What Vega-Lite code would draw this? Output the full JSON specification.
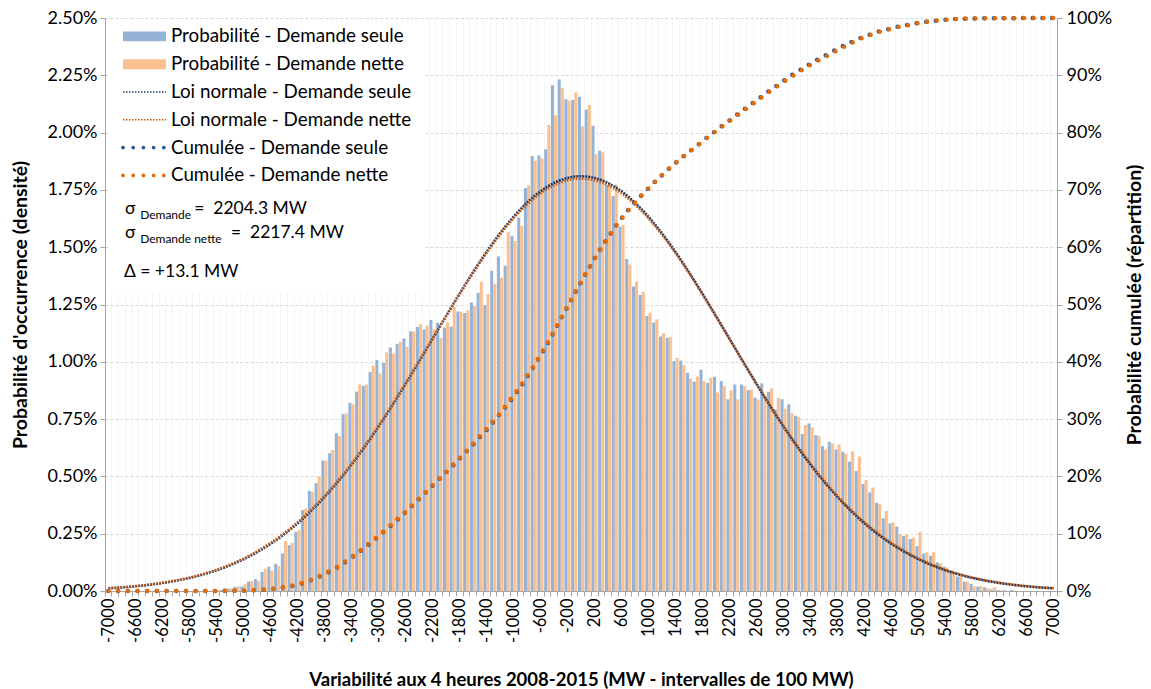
{
"$schema": "https://vega.github.io/schema/vega-lite/v6.json",
"width": 952, "height": 573,
"autosize": {"type": "none"},
"padding": {"left": 105, "top": 18, "right": 94, "bottom": 98},
"background": "white",
"config": {"font": "Lato", "view": {"stroke": null}, "text": {"font": "Lato", "color": "#000"}},
"data": {"values": [
{"mw":-7000,"ps":0,"pn":0,"ns":0.0117,"nn":0.0124,"cs":0,"cn":0},
{"mw":-6900,"ps":0,"pn":0,"ns":0.0135,"nn":0.0143,"cs":0,"cn":0},
{"mw":-6800,"ps":0,"pn":0,"ns":0.0155,"nn":0.0163,"cs":0,"cn":0},
{"mw":-6700,"ps":0,"pn":0,"ns":0.0178,"nn":0.0187,"cs":0,"cn":0},
{"mw":-6600,"ps":0,"pn":0,"ns":0.0204,"nn":0.0214,"cs":0,"cn":0},
{"mw":-6500,"ps":0,"pn":0,"ns":0.0234,"nn":0.0245,"cs":0,"cn":0},
{"mw":-6400,"ps":0,"pn":0,"ns":0.0267,"nn":0.0279,"cs":0,"cn":0},
{"mw":-6300,"ps":0,"pn":0,"ns":0.0304,"nn":0.0317,"cs":0,"cn":0},
{"mw":-6200,"ps":0,"pn":0,"ns":0.0346,"nn":0.0361,"cs":0,"cn":0},
{"mw":-6100,"ps":0,"pn":0,"ns":0.0393,"nn":0.0409,"cs":0,"cn":0},
{"mw":-6000,"ps":0,"pn":0,"ns":0.0445,"nn":0.0463,"cs":0,"cn":0},
{"mw":-5900,"ps":0,"pn":0,"ns":0.0503,"nn":0.0522,"cs":0,"cn":0},
{"mw":-5800,"ps":0,"pn":0,"ns":0.0567,"nn":0.0587,"cs":0,"cn":0},
{"mw":-5700,"ps":0,"pn":0,"ns":0.0639,"nn":0.0661,"cs":0,"cn":0},
{"mw":-5600,"ps":0,"pn":0,"ns":0.0718,"nn":0.0742,"cs":0,"cn":0},
{"mw":-5500,"ps":0,"pn":0.003,"ns":0.0804,"nn":0.0830,"cs":0,"cn":0.003},
{"mw":-5400,"ps":0.003,"pn":0.005,"ns":0.0900,"nn":0.0927,"cs":0.003,"cn":0.008},
{"mw":-5300,"ps":0.005,"pn":0.012,"ns":0.1004,"nn":0.1033,"cs":0.008,"cn":0.020},
{"mw":-5200,"ps":0.010,"pn":0.012,"ns":0.1119,"nn":0.1150,"cs":0.018,"cn":0.032},
{"mw":-5100,"ps":0.018,"pn":0.020,"ns":0.1244,"nn":0.1277,"cs":0.036,"cn":0.052},
{"mw":-5000,"ps":0.020,"pn":0.030,"ns":0.1380,"nn":0.1415,"cs":0.056,"cn":0.082},
{"mw":-4900,"ps":0.041,"pn":0.044,"ns":0.1529,"nn":0.1566,"cs":0.097,"cn":0.126},
{"mw":-4800,"ps":0.052,"pn":0.044,"ns":0.1689,"nn":0.1728,"cs":0.149,"cn":0.170},
{"mw":-4700,"ps":0.083,"pn":0.097,"ns":0.1863,"nn":0.1903,"cs":0.232,"cn":0.267},
{"mw":-4600,"ps":0.106,"pn":0.090,"ns":0.2050,"nn":0.2092,"cs":0.338,"cn":0.357},
{"mw":-4500,"ps":0.119,"pn":0.110,"ns":0.2252,"nn":0.2296,"cs":0.457,"cn":0.467},
{"mw":-4400,"ps":0.164,"pn":0.218,"ns":0.2467,"nn":0.2512,"cs":0.621,"cn":0.685},
{"mw":-4300,"ps":0.200,"pn":0.210,"ns":0.2699,"nn":0.2745,"cs":0.821,"cn":0.895},
{"mw":-4200,"ps":0.257,"pn":0.266,"ns":0.2945,"nn":0.2992,"cs":1.078,"cn":1.161},
{"mw":-4100,"ps":0.353,"pn":0.360,"ns":0.3208,"nn":0.3256,"cs":1.431,"cn":1.521},
{"mw":-4000,"ps":0.437,"pn":0.432,"ns":0.3487,"nn":0.3536,"cs":1.868,"cn":1.953},
{"mw":-3900,"ps":0.471,"pn":0.500,"ns":0.3782,"nn":0.3831,"cs":2.339,"cn":2.453},
{"mw":-3800,"ps":0.569,"pn":0.569,"ns":0.4094,"nn":0.4143,"cs":2.908,"cn":3.022},
{"mw":-3700,"ps":0.601,"pn":0.615,"ns":0.4423,"nn":0.4472,"cs":3.509,"cn":3.637},
{"mw":-3600,"ps":0.688,"pn":0.676,"ns":0.4768,"nn":0.4817,"cs":4.197,"cn":4.313},
{"mw":-3500,"ps":0.772,"pn":0.775,"ns":0.5129,"nn":0.5177,"cs":4.969,"cn":5.088},
{"mw":-3400,"ps":0.821,"pn":0.814,"ns":0.5507,"nn":0.5553,"cs":5.790,"cn":5.902},
{"mw":-3300,"ps":0.870,"pn":0.901,"ns":0.5900,"nn":0.5945,"cs":6.660,"cn":6.803},
{"mw":-3200,"ps":0.895,"pn":0.901,"ns":0.6308,"nn":0.6351,"cs":7.555,"cn":7.704},
{"mw":-3100,"ps":0.955,"pn":0.983,"ns":0.6731,"nn":0.6771,"cs":8.510,"cn":8.687},
{"mw":-3000,"ps":1.008,"pn":0.949,"ns":0.7167,"nn":0.7205,"cs":9.518,"cn":9.636},
{"mw":-2900,"ps":0.995,"pn":1.041,"ns":0.7616,"nn":0.7650,"cs":10.513,"cn":10.677},
{"mw":-2800,"ps":1.062,"pn":1.036,"ns":0.8076,"nn":0.8107,"cs":11.575,"cn":11.713},
{"mw":-2700,"ps":1.077,"pn":1.087,"ns":0.8546,"nn":0.8573,"cs":12.652,"cn":12.800},
{"mw":-2600,"ps":1.101,"pn":1.065,"ns":0.9025,"nn":0.9047,"cs":13.753,"cn":13.865},
{"mw":-2500,"ps":1.133,"pn":1.132,"ns":0.9512,"nn":0.9529,"cs":14.886,"cn":14.997},
{"mw":-2400,"ps":1.152,"pn":1.164,"ns":1.0004,"nn":1.0016,"cs":16.038,"cn":16.161},
{"mw":-2300,"ps":1.142,"pn":1.158,"ns":1.0500,"nn":1.0507,"cs":17.180,"cn":17.319},
{"mw":-2200,"ps":1.182,"pn":1.142,"ns":1.0998,"nn":1.0999,"cs":18.362,"cn":18.461},
{"mw":-2100,"ps":1.170,"pn":1.104,"ns":1.1495,"nn":1.1490,"cs":19.532,"cn":19.565},
{"mw":-2000,"ps":1.150,"pn":1.172,"ns":1.1991,"nn":1.1979,"cs":20.682,"cn":20.737},
{"mw":-1900,"ps":1.153,"pn":1.239,"ns":1.2482,"nn":1.2464,"cs":21.835,"cn":21.976},
{"mw":-1800,"ps":1.220,"pn":1.218,"ns":1.2966,"nn":1.2941,"cs":23.055,"cn":23.194},
{"mw":-1700,"ps":1.213,"pn":1.225,"ns":1.3442,"nn":1.3410,"cs":24.268,"cn":24.419},
{"mw":-1600,"ps":1.259,"pn":1.243,"ns":1.3907,"nn":1.3869,"cs":25.527,"cn":25.662},
{"mw":-1500,"ps":1.300,"pn":1.350,"ns":1.4357,"nn":1.4312,"cs":26.827,"cn":27.012},
{"mw":-1400,"ps":1.247,"pn":1.296,"ns":1.4793,"nn":1.4741,"cs":28.074,"cn":28.308},
{"mw":-1300,"ps":1.397,"pn":1.339,"ns":1.5209,"nn":1.5151,"cs":29.471,"cn":29.647},
{"mw":-1200,"ps":1.459,"pn":1.368,"ns":1.5606,"nn":1.5542,"cs":30.930,"cn":31.015},
{"mw":-1100,"ps":1.419,"pn":1.565,"ns":1.5979,"nn":1.5908,"cs":32.349,"cn":32.580},
{"mw":-1000,"ps":1.549,"pn":1.527,"ns":1.6329,"nn":1.6253,"cs":33.898,"cn":34.107},
{"mw":-900,"ps":1.630,"pn":1.594,"ns":1.6651,"nn":1.6566,"cs":35.528,"cn":35.701},
{"mw":-800,"ps":1.758,"pn":1.770,"ns":1.6945,"nn":1.6856,"cs":37.286,"cn":37.471},
{"mw":-700,"ps":1.898,"pn":1.877,"ns":1.7209,"nn":1.7117,"cs":39.184,"cn":39.348},
{"mw":-600,"ps":1.900,"pn":1.887,"ns":1.7441,"nn":1.7346,"cs":41.084,"cn":41.235},
{"mw":-500,"ps":1.927,"pn":2.033,"ns":1.7639,"nn":1.7540,"cs":43.011,"cn":43.268},
{"mw":-400,"ps":2.207,"pn":2.076,"ns":1.7803,"nn":1.7700,"cs":45.218,"cn":45.344},
{"mw":-300,"ps":2.232,"pn":2.195,"ns":1.7932,"nn":1.7828,"cs":47.450,"cn":47.539},
{"mw":-200,"ps":2.145,"pn":2.139,"ns":1.8025,"nn":1.7919,"cs":49.595,"cn":49.678},
{"mw":-100,"ps":2.142,"pn":2.175,"ns":1.8080,"nn":1.7973,"cs":51.737,"cn":51.853},
{"mw":0,"ps":2.156,"pn":2.028,"ns":1.8099,"nn":1.7992,"cs":53.893,"cn":53.881},
{"mw":100,"ps":2.101,"pn":2.120,"ns":1.8080,"nn":1.7973,"cs":55.994,"cn":56.001},
{"mw":200,"ps":2.030,"pn":1.906,"ns":1.8025,"nn":1.7919,"cs":58.024,"cn":57.907},
{"mw":300,"ps":1.921,"pn":1.914,"ns":1.7932,"nn":1.7828,"cs":59.945,"cn":59.821},
{"mw":400,"ps":1.771,"pn":1.771,"ns":1.7803,"nn":1.7700,"cs":61.716,"cn":61.592},
{"mw":500,"ps":1.723,"pn":1.774,"ns":1.7639,"nn":1.7540,"cs":63.439,"cn":63.366},
{"mw":600,"ps":1.589,"pn":1.597,"ns":1.7441,"nn":1.7346,"cs":65.028,"cn":64.963},
{"mw":700,"ps":1.449,"pn":1.425,"ns":1.7209,"nn":1.7117,"cs":66.477,"cn":66.388},
{"mw":800,"ps":1.328,"pn":1.350,"ns":1.6945,"nn":1.6856,"cs":67.805,"cn":67.738},
{"mw":900,"ps":1.291,"pn":1.306,"ns":1.6651,"nn":1.6566,"cs":69.096,"cn":69.044},
{"mw":1000,"ps":1.200,"pn":1.214,"ns":1.6329,"nn":1.6253,"cs":70.296,"cn":70.258},
{"mw":1100,"ps":1.171,"pn":1.185,"ns":1.5979,"nn":1.5908,"cs":71.467,"cn":71.443},
{"mw":1200,"ps":1.110,"pn":1.125,"ns":1.5606,"nn":1.5542,"cs":72.577,"cn":72.568},
{"mw":1300,"ps":1.105,"pn":1.108,"ns":1.5209,"nn":1.5151,"cs":73.682,"cn":73.676},
{"mw":1400,"ps":1.003,"pn":1.017,"ns":1.4793,"nn":1.4741,"cs":74.685,"cn":74.693},
{"mw":1500,"ps":1.005,"pn":0.985,"ns":1.4357,"nn":1.4312,"cs":75.690,"cn":75.678},
{"mw":1600,"ps":0.952,"pn":0.927,"ns":1.3907,"nn":1.3869,"cs":76.642,"cn":76.605},
{"mw":1700,"ps":0.913,"pn":0.936,"ns":1.3442,"nn":1.3410,"cs":77.555,"cn":77.541},
{"mw":1800,"ps":0.966,"pn":0.916,"ns":1.2966,"nn":1.2941,"cs":78.521,"cn":78.457},
{"mw":1900,"ps":0.908,"pn":0.930,"ns":1.2482,"nn":1.2464,"cs":79.429,"cn":79.387},
{"mw":2000,"ps":0.935,"pn":0.866,"ns":1.1991,"nn":1.1979,"cs":80.364,"cn":80.253},
{"mw":2100,"ps":0.916,"pn":0.894,"ns":1.1495,"nn":1.1490,"cs":81.280,"cn":81.147},
{"mw":2200,"ps":0.836,"pn":0.876,"ns":1.0998,"nn":1.0999,"cs":82.116,"cn":82.023},
{"mw":2300,"ps":0.901,"pn":0.836,"ns":1.0500,"nn":1.0507,"cs":83.017,"cn":82.859},
{"mw":2400,"ps":0.901,"pn":0.894,"ns":1.0004,"nn":1.0016,"cs":83.918,"cn":83.753},
{"mw":2500,"ps":0.876,"pn":0.879,"ns":0.9512,"nn":0.9529,"cs":84.794,"cn":84.632},
{"mw":2600,"ps":0.844,"pn":0.836,"ns":0.9025,"nn":0.9047,"cs":85.638,"cn":85.468},
{"mw":2700,"ps":0.906,"pn":0.852,"ns":0.8546,"nn":0.8573,"cs":86.544,"cn":86.320},
{"mw":2800,"ps":0.869,"pn":0.884,"ns":0.8076,"nn":0.8107,"cs":87.413,"cn":87.204},
{"mw":2900,"ps":0.792,"pn":0.843,"ns":0.7616,"nn":0.7650,"cs":88.205,"cn":88.047},
{"mw":3000,"ps":0.837,"pn":0.795,"ns":0.7167,"nn":0.7205,"cs":89.042,"cn":88.842},
{"mw":3100,"ps":0.814,"pn":0.775,"ns":0.6731,"nn":0.6771,"cs":89.856,"cn":89.617},
{"mw":3200,"ps":0.765,"pn":0.760,"ns":0.6308,"nn":0.6351,"cs":90.621,"cn":90.377},
{"mw":3300,"ps":0.685,"pn":0.724,"ns":0.5900,"nn":0.5945,"cs":91.306,"cn":91.101},
{"mw":3400,"ps":0.731,"pn":0.714,"ns":0.5507,"nn":0.5553,"cs":92.037,"cn":91.815},
{"mw":3500,"ps":0.680,"pn":0.676,"ns":0.5129,"nn":0.5177,"cs":92.717,"cn":92.491},
{"mw":3600,"ps":0.632,"pn":0.618,"ns":0.4768,"nn":0.4817,"cs":93.349,"cn":93.109},
{"mw":3700,"ps":0.651,"pn":0.644,"ns":0.4423,"nn":0.4472,"cs":94.000,"cn":93.753},
{"mw":3800,"ps":0.618,"pn":0.640,"ns":0.4094,"nn":0.4143,"cs":94.618,"cn":94.393},
{"mw":3900,"ps":0.608,"pn":0.600,"ns":0.3782,"nn":0.3831,"cs":95.226,"cn":94.993},
{"mw":4000,"ps":0.564,"pn":0.610,"ns":0.3487,"nn":0.3536,"cs":95.790,"cn":95.603},
{"mw":4100,"ps":0.523,"pn":0.587,"ns":0.3208,"nn":0.3256,"cs":96.313,"cn":96.190},
{"mw":4200,"ps":0.467,"pn":0.484,"ns":0.2945,"nn":0.2992,"cs":96.780,"cn":96.674},
{"mw":4300,"ps":0.430,"pn":0.451,"ns":0.2699,"nn":0.2745,"cs":97.210,"cn":97.125},
{"mw":4400,"ps":0.385,"pn":0.379,"ns":0.2467,"nn":0.2512,"cs":97.595,"cn":97.504},
{"mw":4500,"ps":0.317,"pn":0.349,"ns":0.2252,"nn":0.2296,"cs":97.912,"cn":97.853},
{"mw":4600,"ps":0.295,"pn":0.299,"ns":0.2050,"nn":0.2092,"cs":98.207,"cn":98.152},
{"mw":4700,"ps":0.281,"pn":0.249,"ns":0.1863,"nn":0.1903,"cs":98.488,"cn":98.401},
{"mw":4800,"ps":0.240,"pn":0.249,"ns":0.1689,"nn":0.1728,"cs":98.728,"cn":98.650},
{"mw":4900,"ps":0.227,"pn":0.234,"ns":0.1529,"nn":0.1566,"cs":98.955,"cn":98.884},
{"mw":5000,"ps":0.196,"pn":0.259,"ns":0.1380,"nn":0.1415,"cs":99.151,"cn":99.143},
{"mw":5100,"ps":0.164,"pn":0.169,"ns":0.1244,"nn":0.1277,"cs":99.315,"cn":99.312},
{"mw":5200,"ps":0.154,"pn":0.169,"ns":0.1119,"nn":0.1150,"cs":99.469,"cn":99.481},
{"mw":5300,"ps":0.125,"pn":0.121,"ns":0.1004,"nn":0.1033,"cs":99.594,"cn":99.602},
{"mw":5400,"ps":0.106,"pn":0.102,"ns":0.0900,"nn":0.0927,"cs":99.700,"cn":99.704},
{"mw":5500,"ps":0.089,"pn":0.080,"ns":0.0804,"nn":0.0830,"cs":99.789,"cn":99.784},
{"mw":5600,"ps":0.063,"pn":0.065,"ns":0.0718,"nn":0.0742,"cs":99.852,"cn":99.849},
{"mw":5700,"ps":0.041,"pn":0.041,"ns":0.0639,"nn":0.0661,"cs":99.893,"cn":99.890},
{"mw":5800,"ps":0.031,"pn":0.022,"ns":0.0567,"nn":0.0587,"cs":99.924,"cn":99.912},
{"mw":5900,"ps":0.019,"pn":0.023,"ns":0.0503,"nn":0.0522,"cs":99.943,"cn":99.935},
{"mw":6000,"ps":0.016,"pn":0.012,"ns":0.0445,"nn":0.0463,"cs":99.959,"cn":99.947},
{"mw":6100,"ps":0.007,"pn":0.016,"ns":0.0393,"nn":0.0409,"cs":99.966,"cn":99.963},
{"mw":6200,"ps":0.004,"pn":0.003,"ns":0.0346,"nn":0.0361,"cs":99.970,"cn":99.966},
{"mw":6300,"ps":0.003,"pn":0,"ns":0.0304,"nn":0.0317,"cs":99.973,"cn":99.966},
{"mw":6400,"ps":0.004,"pn":0.002,"ns":0.0267,"nn":0.0279,"cs":99.977,"cn":99.968},
{"mw":6500,"ps":0,"pn":0,"ns":0.0234,"nn":0.0245,"cs":100,"cn":100},
{"mw":6600,"ps":0,"pn":0,"ns":0.0204,"nn":0.0214,"cs":100,"cn":100},
{"mw":6700,"ps":0,"pn":0,"ns":0.0178,"nn":0.0187,"cs":100,"cn":100},
{"mw":6800,"ps":0,"pn":0,"ns":0.0155,"nn":0.0163,"cs":100,"cn":100},
{"mw":6900,"ps":0,"pn":0,"ns":0.0135,"nn":0.0143,"cs":100,"cn":100},
{"mw":7000,"ps":0,"pn":0,"ns":0.0117,"nn":0.0124,"cs":100,"cn":100}
]},
"layer": [
{
"layer": [
{
"data": {"values": [{}]},
"mark": {"type": "rect", "color": "white"},
"encoding": {
"x": {"datum": -7000, "type": "ordinal"},
"x2": {"datum": -2300},
"y": {"datum": 2.49, "type": "quantitative"},
"y2": {"datum": 1.30}
}
},
{
"transform": [{"fold": ["ps", "pn"], "as": ["serie", "val"]}],
"mark": {"type": "bar"},
"encoding": {
"x": {"field": "mw", "type": "ordinal", "scale": {"paddingInner": 0.1, "paddingOuter": 0.05},
"axis": {"zindex": 0, "title": "Variabilité aux 4 heures 2008-2015 (MW - intervalles de 100 MW)",
"titleFontSize": 18.5, "titleFontWeight": "bold", "titleColor": "#000", "titlePadding": 28,
"labelAngle": -90, "labelFontSize": 16.5, "labelColor": "#000", "labelOverlap": false, "labelPadding": 2,
"labelExpr": "abs(datum.value % 400) == 200 ? datum.label : ''",
"tickBand": "extent", "tickSize": 5, "tickColor": "#A6A6A6", "domainColor": "#A6A6A6",
"grid": true, "gridColor": "#EDEDED", "gridDash": [2, 2]}},
"xOffset": {"field": "serie", "type": "nominal", "sort": ["ps", "pn"], "scale": {"domain": ["ps", "pn"], "paddingInner": 0, "paddingOuter": 0}},
"y": {"field": "val", "type": "quantitative", "scale": {"domain": [0, 2.5], "nice": false},
"axis": {"zindex": 0, "title": "Probabilité d'occurrence (densité)", "values": [0, 0.25, 0.5, 0.75, 1, 1.25, 1.5, 1.75, 2, 2.25, 2.5],
"labelExpr": "format(datum.value, '.2f') + '%'", "labelFontSize": 18, "labelColor": "#000", "labelPadding": 3,
"titleFontSize": 19.5, "titleFontWeight": "bold", "titleColor": "#000", "titlePadding": 17,
"tickSize": 5, "tickColor": "#A6A6A6", "domainColor": "#A6A6A6",
"grid": true, "gridColor": "#D9D9D9", "gridDash": [3, 2]}},
"color": {"field": "serie", "type": "nominal",
"scale": {"domain": ["ps", "pn", "ns", "nn", "cs", "cn"], "range": ["#95B3D7", "#FAC090", "#1F3864", "#C55A11", "#2F5597", "#E36C0A"]},
"legend": {"orient": "none", "legendX": 18, "legendY": 9, "title": null, "padding": 0, "zindex": 2,
"labelExpr": "datum.value == 'ps' ? 'Probabilité - Demande seule' : datum.value == 'pn' ? 'Probabilité - Demande nette' : datum.value == 'ns' ? 'Loi normale - Demande seule' : datum.value == 'nn' ? 'Loi normale - Demande nette' : datum.value == 'cs' ? 'Cumulée - Demande seule' : 'Cumulée - Demande nette'",
"labelFontSize": 18.8, "labelColor": "#000", "labelLimit": 400, "rowPadding": 7.8,
"encode": {
"symbols": {"update": {
"x": {"value": 21.5},
"shape": {"signal": "(datum.value == 'ps' || datum.value == 'pn') ? 'M-1,-0.23H1V0.23H-1Z' : 'stroke'"},
"fill": {"signal": "datum.value == 'ps' ? '#95B3D7' : datum.value == 'pn' ? '#FAC090' : 'transparent'"},
"stroke": {"signal": "datum.value == 'ns' ? '#1F3864' : datum.value == 'nn' ? '#C55A11' : datum.value == 'cs' ? '#2F5597' : datum.value == 'cn' ? '#E36C0A' : 'transparent'"},
"strokeWidth": {"signal": "(datum.value == 'ns' || datum.value == 'nn') ? 1.5 : (datum.value == 'cs' || datum.value == 'cn') ? 3.8 : 0"},
"strokeDash": {"signal": "(datum.value == 'ns' || datum.value == 'nn') ? [1.5, 1.5] : (datum.value == 'cs' || datum.value == 'cn') ? [0, 10.2] : [1, 0]"},
"strokeCap": {"signal": "(datum.value == 'cs' || datum.value == 'cn') ? 'round' : 'butt'"},
"size": {"value": 1849},
"opacity": {"value": 1}
}},
"labels": {"update": {"x": {"value": 48}}}
}}
}
}
},
{
"mark": {"type": "line", "strokeWidth": 2.5, "strokeDash": [2, 1]},
"encoding": {
"x": {"field": "mw", "type": "ordinal"},
"y": {"field": "ns", "type": "quantitative"},
"color": {"datum": "ns"}
}
},
{
"mark": {"type": "line", "strokeWidth": 2.5, "strokeDash": [1.5, 1.5]},
"encoding": {
"x": {"field": "mw", "type": "ordinal"},
"y": {"field": "nn", "type": "quantitative"},
"color": {"datum": "nn"}
}
},
{
"data": {"values": [{}]},
"mark": {"type": "text", "text": "σ", "align": "left", "baseline": "alphabetic", "fontSize": 17.5, "dx": 3},
"encoding": {"x": {"datum": -6800, "type": "ordinal"}, "y": {"datum": 1.645, "type": "quantitative"}}
},
{
"data": {"values": [{}]},
"mark": {"type": "text", "text": "Demande", "align": "left", "baseline": "alphabetic", "fontSize": 12, "dx": -2},
"encoding": {"x": {"datum": -6500, "type": "ordinal"}, "y": {"datum": 1.623, "type": "quantitative"}}
},
{
"data": {"values": [{}]},
"mark": {"type": "text", "text": "= \u00a02204.3 MW", "align": "left", "baseline": "alphabetic", "fontSize": 17.5, "dx": -2},
"encoding": {"x": {"datum": -5700, "type": "ordinal"}, "y": {"datum": 1.645, "type": "quantitative"}}
},
{
"data": {"values": [{}]},
"mark": {"type": "text", "text": "σ", "align": "left", "baseline": "alphabetic", "fontSize": 17.5, "dx": 3},
"encoding": {"x": {"datum": -6800, "type": "ordinal"}, "y": {"datum": 1.540, "type": "quantitative"}}
},
{
"data": {"values": [{}]},
"mark": {"type": "text", "text": "Demande nette", "align": "left", "baseline": "alphabetic", "fontSize": 12, "dx": -2},
"encoding": {"x": {"datum": -6500, "type": "ordinal"}, "y": {"datum": 1.518, "type": "quantitative"}}
},
{
"data": {"values": [{}]},
"mark": {"type": "text", "text": "= \u00a02217.4 MW", "align": "left", "baseline": "alphabetic", "fontSize": 17.5, "dx": 1},
"encoding": {"x": {"datum": -5200, "type": "ordinal"}, "y": {"datum": 1.540, "type": "quantitative"}}
},
{
"data": {"values": [{}]},
"mark": {"type": "text", "text": "Δ = +13.1 MW", "align": "left", "baseline": "alphabetic", "fontSize": 17.5, "dx": 2},
"encoding": {"x": {"datum": -6800, "type": "ordinal"}, "y": {"datum": 1.370, "type": "quantitative"}}
}
]
},
{
"layer": [
{
"mark": {"type": "line", "strokeWidth": 4.5, "strokeDash": [0, 9.7], "strokeCap": "round"},
"encoding": {
"x": {"field": "mw", "type": "ordinal"},
"y": {"field": "cs", "type": "quantitative", "scale": {"domain": [0, 100], "nice": false},
"axis": {"zindex": 0, "orient": "right", "title": "Probabilité cumulée (répartition)", "values": [0, 10, 20, 30, 40, 50, 60, 70, 80, 90, 100],
"labelExpr": "datum.value + '%'", "labelFontSize": 18, "labelColor": "#000", "labelPadding": 4,
"titleFontSize": 19.5, "titleFontWeight": "bold", "titleColor": "#000", "titlePadding": 33, "titleAngle": 270,
"tickSize": 5, "tickColor": "#A6A6A6", "domainColor": "#A6A6A6", "grid": false}},
"color": {"datum": "cs"}
}
},
{
"mark": {"type": "line", "strokeWidth": 4.5, "strokeDash": [0, 9.7], "strokeCap": "round"},
"encoding": {
"x": {"field": "mw", "type": "ordinal"},
"y": {"field": "cn", "type": "quantitative"},
"color": {"datum": "cn"}
}
}
]
}
],
"resolve": {"scale": {"y": "independent"}}
}
